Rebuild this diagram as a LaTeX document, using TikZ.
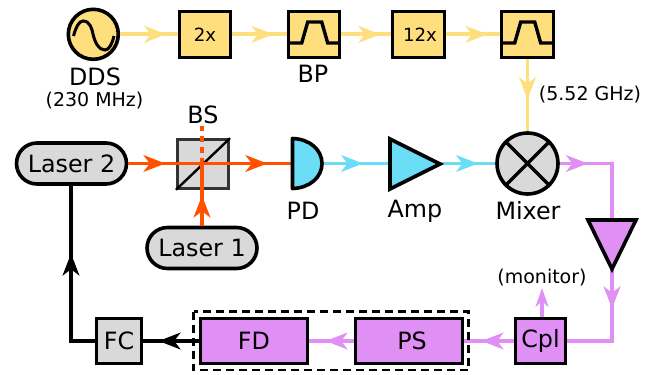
\documentclass[tikz,border=0pt]{standalone}
\usepackage{fontspec}
\setmainfont{DejaVu Sans}
\usetikzlibrary{arrows.meta,decorations.markings,shapes.misc}
\definecolor{cy}{HTML}{FFDE7D}
\definecolor{cc}{HTML}{6BDDF7}
\definecolor{cp}{HTML}{E08FF5}
\definecolor{co}{HTML}{FF5100}
\definecolor{cg}{HTML}{D9D9D9}
\tikzset{
  blk/.style={draw=black,line width=3.6pt,inner sep=0pt,font=\fontsize{23.8}{26}\selectfont},
  blksmall/.style={blk,font=\fontsize{18.2}{20}\selectfont},
  lbl/.style={inner sep=0pt,font=\fontsize{23.8}{26}\selectfont},
  lblsmall/.style={inner sep=0pt,font=\fontsize{19}{22}\selectfont},
  laserbox/.style={blk,rounded rectangle,fill=cg,minimum width=110pt,minimum height=41pt},
  wire/.style={line width=3.8pt},
  tipat/.style={postaction={decorate,decoration={markings,mark=at position #1pt with {\arrow[line width=1pt]{Stealth[length=22pt,width=17pt,inset=6.5pt]}}}}},
  icon/.style={line width=3.4pt,line join=miter},
}
\begin{document}
\begin{tikzpicture}[x=1pt,y=-1pt]
\useasboundingbox (0,0) rectangle (657,375);
% nodes
\node[blk,circle,fill=cy,minimum size=50pt] (dds) at (93.3,34.3) {};
\node[blksmall,fill=cy,minimum width=51pt,minimum height=46pt] (x2) at (205,34.3) {2x};
\node[blk,fill=cy,minimum width=51pt,minimum height=46pt] (bp1) at (314,34.3) {};
\node[blksmall,fill=cy,minimum width=52pt,minimum height=46pt] (x12) at (418.5,34.3) {\hspace{3pt}12x};
\node[blk,fill=cy,minimum width=52pt,minimum height=46pt] (bp2) at (527.5,34.3) {};
\node[blk,circle,fill=cg,minimum size=61pt] (mix) at (527.5,163.5) {};
\node[laserbox] (l2) at (71.5,163.5) {Laser 2};
\node[laserbox] (l1) at (202,248) {Laser 1};
\node[draw=black!80,line width=2.6pt,fill=cg,minimum width=51.5pt,minimum height=49pt,inner sep=0pt] (bs) at (203,164) {};
\node[blk,fill=cg,minimum width=45pt,minimum height=45pt] (fc) at (119,341) {FC};
\node[blk,fill=cp,minimum width=107pt,minimum height=45pt] (fd) at (254,341) {FD};
\node[blk,fill=cp,minimum width=107pt,minimum height=45pt] (ps) at (409,341) {\hspace{6pt}PS};
\node[blk,fill=cp,minimum width=50pt,minimum height=45pt] (cpl) at (540.5,341) {Cpl};
\coordinate (pdl) at (292.5,163.5);
\coordinate (pdr) at (323,163.5);
\coordinate (ampl) at (390,163.5);
\coordinate (ampr) at (441,163.5);
\coordinate (c1) at (612,163.5);
\coordinate (c2) at (612,341);
\coordinate (c3) at (71,341);
\coordinate (bstop) at (202,126);
\coordinate (bsc) at (202,163.5);
\coordinate (mon) at (542,288);
% connectors
\draw[wire,cy,tipat=46] (dds.east) -- (x2.west);
\draw[wire,cy,tipat=41] (x2.east) -- (bp1.west);
\draw[wire,cy,tipat=39] (bp1.east) -- (x12.west);
\draw[wire,cy,tipat=41] (x12.east) -- (bp2.west);
\draw[wire,cy,tipat=40] (bp2.south) -- (mix.north);
\draw[wire,co,dash pattern=on 6pt off 5pt] (bsc) -- (bstop);
\draw[line width=2.4pt] (bs.south west) -- (bs.north east);
\draw[wire,co,tipat=37,tipat=139] (l2.east) -- (pdl);
\draw[wire,co,tipat=30] (l1.north) -- (bsc);
\draw[wire,cc,tipat=40] (pdr) -- (ampl);
\draw[wire,cc,tipat=37] (ampr) -- (mix.west);
\draw[wire,cp,tipat=28,tipat=197,line join=miter] (mix.east) -- (c1) -- (c2) -- (cpl.east);
\draw[wire,cp,tipat=32] (cpl.west) -- (ps.east);
\draw[wire,cp,tipat=28] (ps.west) -- (fd.east);
\draw[wire,tipat=40] (fd.west) -- (fc.east);
\draw[wire,tipat=111,line join=miter] (fc.west) -- (c3) -- (l2.south -| c3);
\draw[line width=3.6pt,cp,-{Stealth[length=19pt,width=13pt,inset=6pt]}] (mon |- cpl.north) -- (mon);
% device symbols
\draw[icon,line width=3.6pt,fill=cc,line join=round] (292.5,138.5) .. controls (310,139) and (322,150) .. (322,163.5) .. controls (322,177) and (310,188) .. (292.5,188.5) -- cycle;
\draw[icon,line width=3.6pt,fill=cc] (390,139) -- (440,164) -- (390,189) -- cycle;
\draw[icon,line width=3.6pt,fill=cp] (588,220) -- (636,220) -- (612,269) -- cycle;
\draw[line width=3.2pt] (mix.45) -- (mix.225) (mix.135) -- (mix.315);
\draw[line width=3pt] (73.5,36) .. controls (76,27) and (79,21) .. (83,21) .. controls (90,21) and (92,29) .. (93,34) .. controls (95,43) and (99,50) .. (105,50) .. controls (109,50) and (112,44) .. (114,36);
\draw[icon] (bp1.west |- 0,43) ++(1,0) -- ++(14,0) -- ++(6,-21) -- ++(14,0) -- ++(6,21) -- ++(13,0);
\draw[icon] (bp2.west |- 0,43) ++(1,0) -- ++(14,0) -- ++(6,-21) -- ++(14,0) -- ++(6,21) -- ++(13,0);
\draw[line width=2.6pt,dash pattern=on 8pt off 5pt] (193.5,311.5) rectangle (468.5,370);
% labels
\node[lbl] (tdds) at (95,77) {DDS};
\node[lblsmall] (tf) at (94.5,101) {(230 MHz)};
\node[lbl] (tbs) at (203,115) {BS};
\node[lbl] (tbp) at (313,73.5) {BP};
\node[lbl] (tpd) at (303,211) {PD};
\node[lbl] (tamp) at (415,211) {Amp};
\node[lbl] (tmix) at (528,211) {Mixer};
\node[lblsmall] (tghz) at (590,95) {(5.52 GHz)};
\node[lblsmall] (tmon) at (542,278) {(monitor)};
\end{tikzpicture}
\end{document}
